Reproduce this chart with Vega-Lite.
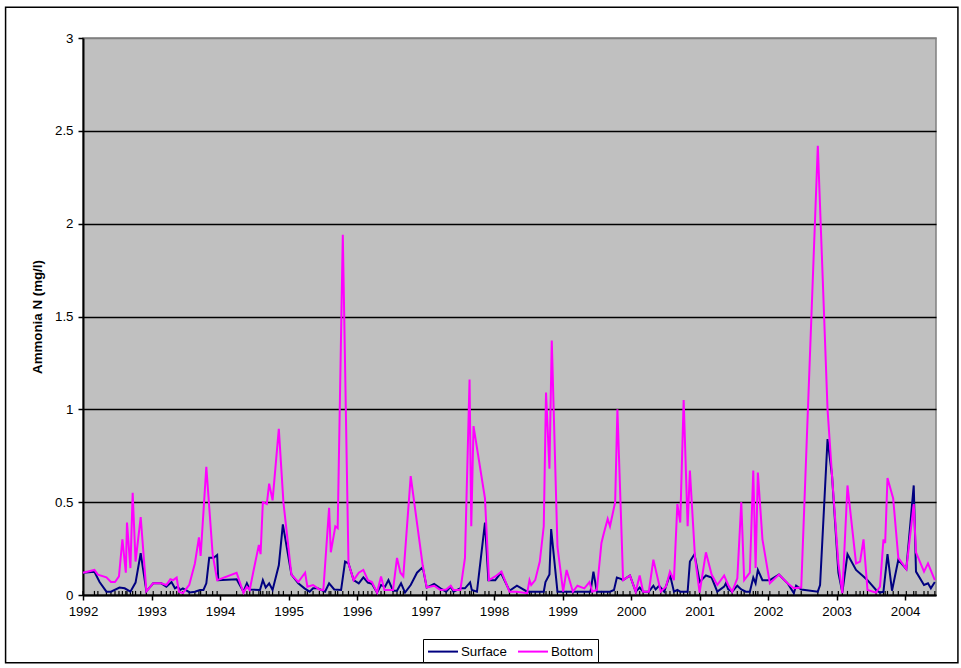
{
  "$schema": "https://vega.github.io/schema/vega-lite/v6.json",
  "width": 853,
  "height": 557,
  "autosize": {"type": "none"},
  "padding": {"left": 83, "top": 38, "right": 25, "bottom": 73},
  "background": "white",
  "config": {
    "font": "Liberation Sans",
    "view": {"fill": "#C0C0C0", "stroke": "#808080", "strokeWidth": 1.5},
    "axisX": {
      "format": "d",
      "grid": false,
      "tickSize": 5,
      "tickColor": "black",
      "tickWidth": 1.5,
      "domainColor": "black",
      "domainWidth": 2,
      "labelFontSize": 13.3,
      "labelColor": "black",
      "labelPadding": 4,
      "labelFlush": false,
      "labelOverlap": false
    },
    "axisY": {
      "format": "~g",
      "grid": true,
      "gridWidth": 1.5,
      "domainColor": "black",
      "domainWidth": 2,
      "tickColor": "black",
      "tickWidth": 1.5,
      "tickSize": 5,
      "labelFontSize": 13.3,
      "labelColor": "black",
      "labelPadding": 5,
      "titleFontWeight": "bold",
      "titleFontSize": 13.3,
      "titleColor": "black",
      "titlePadding": 10
    }
  },
  "datasets": {
    "S": [
      {"t":1992.000,"v":0.12},{"t":1992.167,"v":0.125},{"t":1992.242,"v":0.07},{"t":1992.342,"v":0.018},{"t":1992.408,"v":0.018},{"t":1992.533,"v":0.04},{"t":1992.608,"v":0.036},{"t":1992.692,"v":0.018},{"t":1992.767,"v":0.067},{"t":1992.842,"v":0.225},{"t":1992.925,"v":0.02},
      {"t":1993.025,"v":0.063},{"t":1993.142,"v":0.063},{"t":1993.217,"v":0.045},{"t":1993.292,"v":0.07},{"t":1993.342,"v":0.036},{"t":1993.383,"v":0.045},{"t":1993.417,"v":0.027},{"t":1993.458,"v":0.036},{"t":1993.558,"v":0.014},{"t":1993.633,"v":0.018},{"t":1993.708,"v":0.027},{"t":1993.758,"v":0.027},{"t":1993.800,"v":0.063},{"t":1993.842,"v":0.20},{"t":1993.908,"v":0.20},{"t":1993.958,"v":0.215},{"t":1993.975,"v":0.08},
      {"t":1994.242,"v":0.085},{"t":1994.342,"v":0.018},{"t":1994.392,"v":0.063},{"t":1994.433,"v":0.03},{"t":1994.583,"v":0.027},{"t":1994.625,"v":0.08},{"t":1994.667,"v":0.04},{"t":1994.717,"v":0.063},{"t":1994.767,"v":0.027},{"t":1994.858,"v":0.16},{"t":1994.917,"v":0.38},
      {"t":1995.042,"v":0.11},{"t":1995.142,"v":0.063},{"t":1995.233,"v":0.036},{"t":1995.308,"v":0.018},{"t":1995.358,"v":0.036},{"t":1995.425,"v":0.036},{"t":1995.533,"v":0.018},{"t":1995.592,"v":0.063},{"t":1995.667,"v":0.03},{"t":1995.767,"v":0.027},{"t":1995.825,"v":0.18},{"t":1995.875,"v":0.17},{"t":1995.950,"v":0.08},
      {"t":1996.025,"v":0.063},{"t":1996.092,"v":0.095},{"t":1996.158,"v":0.067},{"t":1996.217,"v":0.06},{"t":1996.292,"v":0.013},{"t":1996.350,"v":0.054},{"t":1996.408,"v":0.045},{"t":1996.458,"v":0.08},{"t":1996.525,"v":0.023},{"t":1996.583,"v":0.023},{"t":1996.642,"v":0.063},{"t":1996.700,"v":0.013},{"t":1996.783,"v":0.054},{"t":1996.875,"v":0.12},{"t":1996.958,"v":0.15},
      {"t":1997.017,"v":0.04},{"t":1997.125,"v":0.06},{"t":1997.217,"v":0.036},{"t":1997.300,"v":0.018},{"t":1997.367,"v":0.045},{"t":1997.408,"v":0.018},{"t":1997.508,"v":0.036},{"t":1997.575,"v":0.036},{"t":1997.650,"v":0.068},{"t":1997.675,"v":0.027},{"t":1997.750,"v":0.018},{"t":1997.867,"v":0.39},{"t":1997.917,"v":0.08},
      {"t":1998.017,"v":0.08},{"t":1998.100,"v":0.12},{"t":1998.225,"v":0.023},{"t":1998.333,"v":0.05},{"t":1998.483,"v":0.018},{"t":1998.575,"v":0.018},{"t":1998.725,"v":0.018},{"t":1998.750,"v":0.07},{"t":1998.808,"v":0.11},{"t":1998.833,"v":0.355},{"t":1998.925,"v":0.018},
      {"t":1999.058,"v":0.018},{"t":1999.217,"v":0.018},{"t":1999.408,"v":0.018},{"t":1999.450,"v":0.126},{"t":1999.500,"v":0.018},{"t":1999.692,"v":0.018},{"t":1999.750,"v":0.027},{"t":1999.792,"v":0.094},{"t":1999.850,"v":0.087},{"t":1999.883,"v":0.08},{"t":1999.983,"v":0.105},
      {"t":2000.067,"v":0.018},{"t":2000.125,"v":0.04},{"t":2000.175,"v":0.018},{"t":2000.258,"v":0.018},{"t":2000.325,"v":0.05},{"t":2000.358,"v":0.03},{"t":2000.408,"v":0.05},{"t":2000.483,"v":0.018},{"t":2000.567,"v":0.11},{"t":2000.625,"v":0.018},{"t":2000.675,"v":0.027},{"t":2000.717,"v":0.018},{"t":2000.825,"v":0.018},{"t":2000.858,"v":0.18},{"t":2000.925,"v":0.22},{"t":2000.950,"v":0.17},
      {"t":2001.000,"v":0.07},{"t":2001.092,"v":0.105},{"t":2001.175,"v":0.094},{"t":2001.258,"v":0.018},{"t":2001.358,"v":0.045},{"t":2001.383,"v":0.063},{"t":2001.417,"v":0.03},{"t":2001.475,"v":0.018},{"t":2001.550,"v":0.05},{"t":2001.608,"v":0.03},{"t":2001.675,"v":0.018},{"t":2001.733,"v":0.018},{"t":2001.783,"v":0.094},{"t":2001.817,"v":0.063},{"t":2001.850,"v":0.135},{"t":2001.917,"v":0.08},
      {"t":2002.025,"v":0.08},{"t":2002.158,"v":0.11},{"t":2002.283,"v":0.063},{"t":2002.375,"v":0.01},{"t":2002.408,"v":0.05},{"t":2002.483,"v":0.03},{"t":2002.725,"v":0.018},{"t":2002.758,"v":0.054},{"t":2002.867,"v":0.84},{"t":2002.933,"v":0.64},
      {"t":2003.025,"v":0.12},{"t":2003.083,"v":0.013},{"t":2003.158,"v":0.22},{"t":2003.283,"v":0.135},{"t":2003.392,"v":0.10},{"t":2003.450,"v":0.08},{"t":2003.575,"v":0.027},{"t":2003.633,"v":0.013},{"t":2003.683,"v":0.018},{"t":2003.742,"v":0.22},{"t":2003.808,"v":0.023},{"t":2003.900,"v":0.19},
      {"t":2004.017,"v":0.14},{"t":2004.125,"v":0.59},{"t":2004.158,"v":0.126},{"t":2004.275,"v":0.054},{"t":2004.333,"v":0.063},{"t":2004.375,"v":0.036},{"t":2004.433,"v":0.07}
    ],
    "B": [
      {"t":1992.000,"v":0.12},{"t":1992.167,"v":0.135},{"t":1992.217,"v":0.11},{"t":1992.342,"v":0.095},{"t":1992.408,"v":0.07},{"t":1992.467,"v":0.07},{"t":1992.525,"v":0.10},{"t":1992.575,"v":0.30},{"t":1992.625,"v":0.12},{"t":1992.642,"v":0.39},{"t":1992.692,"v":0.145},{"t":1992.725,"v":0.55},{"t":1992.767,"v":0.18},{"t":1992.842,"v":0.42},{"t":1992.925,"v":0.02},
      {"t":1993.025,"v":0.063},{"t":1993.142,"v":0.063},{"t":1993.217,"v":0.054},{"t":1993.275,"v":0.085},{"t":1993.317,"v":0.08},{"t":1993.367,"v":0.094},{"t":1993.400,"v":0.018},{"t":1993.458,"v":0.01},{"t":1993.550,"v":0.054},{"t":1993.633,"v":0.17},{"t":1993.692,"v":0.31},{"t":1993.717,"v":0.21},{"t":1993.800,"v":0.69},{"t":1993.892,"v":0.22},{"t":1993.958,"v":0.08},
      {"t":1994.242,"v":0.12},{"t":1994.342,"v":0.012},{"t":1994.392,"v":0.045},{"t":1994.433,"v":0.027},{"t":1994.483,"v":0.12},{"t":1994.567,"v":0.27},{"t":1994.592,"v":0.22},{"t":1994.625,"v":0.50},{"t":1994.683,"v":0.49},{"t":1994.717,"v":0.60},{"t":1994.767,"v":0.51},{"t":1994.858,"v":0.895},{"t":1994.925,"v":0.50},
      {"t":1995.042,"v":0.11},{"t":1995.142,"v":0.07},{"t":1995.242,"v":0.12},{"t":1995.275,"v":0.045},{"t":1995.358,"v":0.054},{"t":1995.450,"v":0.03},{"t":1995.508,"v":0.027},{"t":1995.592,"v":0.47},{"t":1995.617,"v":0.23},{"t":1995.683,"v":0.37},{"t":1995.717,"v":0.36},{"t":1995.792,"v":1.94},{"t":1995.875,"v":0.17},{"t":1995.950,"v":0.08},
      {"t":1996.025,"v":0.12},{"t":1996.092,"v":0.135},{"t":1996.158,"v":0.08},{"t":1996.217,"v":0.07},{"t":1996.292,"v":0.013},{"t":1996.350,"v":0.10},{"t":1996.400,"v":0.027},{"t":1996.525,"v":0.027},{"t":1996.583,"v":0.20},{"t":1996.633,"v":0.12},{"t":1996.675,"v":0.10},{"t":1996.783,"v":0.64},{"t":1996.958,"v":0.16},
      {"t":1997.017,"v":0.04},{"t":1997.125,"v":0.05},{"t":1997.217,"v":0.027},{"t":1997.300,"v":0.03},{"t":1997.367,"v":0.05},{"t":1997.408,"v":0.027},{"t":1997.508,"v":0.027},{"t":1997.575,"v":0.20},{"t":1997.642,"v":1.16},{"t":1997.667,"v":0.37},{"t":1997.700,"v":0.91},{"t":1997.867,"v":0.52},{"t":1997.925,"v":0.08},
      {"t":1998.017,"v":0.10},{"t":1998.108,"v":0.126},{"t":1998.225,"v":0.018},{"t":1998.333,"v":0.018},{"t":1998.483,"v":0.01},{"t":1998.517,"v":0.08},{"t":1998.542,"v":0.054},{"t":1998.600,"v":0.08},{"t":1998.667,"v":0.18},{"t":1998.725,"v":0.37},{"t":1998.758,"v":1.09},{"t":1998.808,"v":0.68},{"t":1998.842,"v":1.37},{"t":1998.925,"v":0.26},
      {"t":1999.008,"v":0.018},{"t":1999.058,"v":0.135},{"t":1999.150,"v":0.018},{"t":1999.217,"v":0.05},{"t":1999.317,"v":0.036},{"t":1999.392,"v":0.07},{"t":1999.433,"v":0.018},{"t":1999.500,"v":0.027},{"t":1999.567,"v":0.28},{"t":1999.600,"v":0.33},{"t":1999.658,"v":0.41},{"t":1999.692,"v":0.37},{"t":1999.767,"v":0.50},{"t":1999.800,"v":1.00},{"t":1999.883,"v":0.08},{"t":1999.983,"v":0.105},
      {"t":2000.067,"v":0.018},{"t":2000.125,"v":0.105},{"t":2000.175,"v":0.018},{"t":2000.258,"v":0.018},{"t":2000.325,"v":0.19},{"t":2000.433,"v":0.018},{"t":2000.508,"v":0.045},{"t":2000.567,"v":0.126},{"t":2000.625,"v":0.08},{"t":2000.675,"v":0.49},{"t":2000.717,"v":0.39},{"t":2000.767,"v":1.05},{"t":2000.825,"v":0.37},{"t":2000.858,"v":0.67},{"t":2000.933,"v":0.20},
      {"t":2001.000,"v":0.013},{"t":2001.092,"v":0.23},{"t":2001.175,"v":0.11},{"t":2001.258,"v":0.054},{"t":2001.358,"v":0.105},{"t":2001.417,"v":0.054},{"t":2001.475,"v":0.018},{"t":2001.550,"v":0.09},{"t":2001.608,"v":0.50},{"t":2001.650,"v":0.08},{"t":2001.733,"v":0.12},{"t":2001.783,"v":0.67},{"t":2001.817,"v":0.145},{"t":2001.850,"v":0.66},{"t":2001.917,"v":0.30},
      {"t":2002.025,"v":0.063},{"t":2002.158,"v":0.11},{"t":2002.283,"v":0.063},{"t":2002.375,"v":0.036},{"t":2002.483,"v":0.04},{"t":2002.725,"v":2.42},{"t":2002.867,"v":1.00},{"t":2002.933,"v":0.64},
      {"t":2003.025,"v":0.17},{"t":2003.083,"v":0.01},{"t":2003.158,"v":0.59},{"t":2003.283,"v":0.17},{"t":2003.342,"v":0.18},{"t":2003.392,"v":0.30},{"t":2003.450,"v":0.027},{"t":2003.575,"v":0.013},{"t":2003.633,"v":0.045},{"t":2003.683,"v":0.30},{"t":2003.708,"v":0.28},{"t":2003.742,"v":0.63},{"t":2003.825,"v":0.52},{"t":2003.900,"v":0.20},
      {"t":2004.017,"v":0.14},{"t":2004.125,"v":0.49},{"t":2004.158,"v":0.23},{"t":2004.275,"v":0.126},{"t":2004.333,"v":0.17},{"t":2004.433,"v":0.08}
    ]
  },
  "layer": [
    {
      "data": {"values": [{"k": 1}]},
      "mark": {"type": "rect", "fill": "white", "fillOpacity": 0, "stroke": "black", "strokeWidth": 1.5, "clip": false},
      "encoding": {
        "x": {"datum": 1990.87, "type": "quantitative", "scale": {"domain": [1992, 2004.45], "nice": false, "zero": false}, "title": null,
          "axis": {"values": [1992,1993,1994,1995,1996,1997,1998,1999,2000,2001,2002,2003,2004]}},
        "x2": {"datum": 2004.77},
        "y": {"datum": 3.165, "type": "quantitative", "scale": {"domain": [0, 3], "nice": false}, "title": "Ammonia N (mg/l)",
          "axis": {"values": [0,0.5,1,1.5,2,2.5,3], "gridColor": {"condition": {"test": "datum.value >= 3", "value": "#808080"}, "value": "black"}}},
        "y2": {"datum": -0.365}
      }
    },
    {
      "data": {"name": "B"},
      "mark": {"type": "rule", "color": "black", "strokeWidth": 1.2},
      "encoding": {
        "x": {"field": "t", "type": "quantitative", "title": null},
        "y": {"datum": 0, "type": "quantitative", "title": "Ammonia N (mg/l)"},
        "y2": {"datum": 0.022}
      }
    },
    {
      "data": {"name": "S"},
      "mark": {"type": "line", "strokeWidth": 2},
      "encoding": {
        "x": {"field": "t", "type": "quantitative", "title": null},
        "y": {"field": "v", "type": "quantitative", "title": "Ammonia N (mg/l)"},
        "color": {
          "datum": "Surface",
          "scale": {"domain": ["Surface", "Bottom"], "range": ["#000080", "#FF00FF"]},
          "legend": {
            "title": null,
            "orient": "none",
            "legendX": 340,
            "legendY": 601,
            "direction": "horizontal",
            "strokeColor": "black",
            "fillColor": "white",
            "padding": 4,
            "symbolType": "M-1,0H3",
            "symbolSize": 225,
            "symbolStrokeWidth": 2,
            "symbolFillColor": "transparent",
            "labelFontSize": 13.3,
            "labelColor": "black",
            "labelOffset": 17,
            "columnPadding": 7
          }
        }
      }
    },
    {
      "data": {"name": "B"},
      "mark": {"type": "line", "strokeWidth": 2},
      "encoding": {
        "x": {"field": "t", "type": "quantitative", "title": null},
        "y": {"field": "v", "type": "quantitative", "title": "Ammonia N (mg/l)"},
        "color": {"datum": "Bottom"}
      }
    }
  ]
}
